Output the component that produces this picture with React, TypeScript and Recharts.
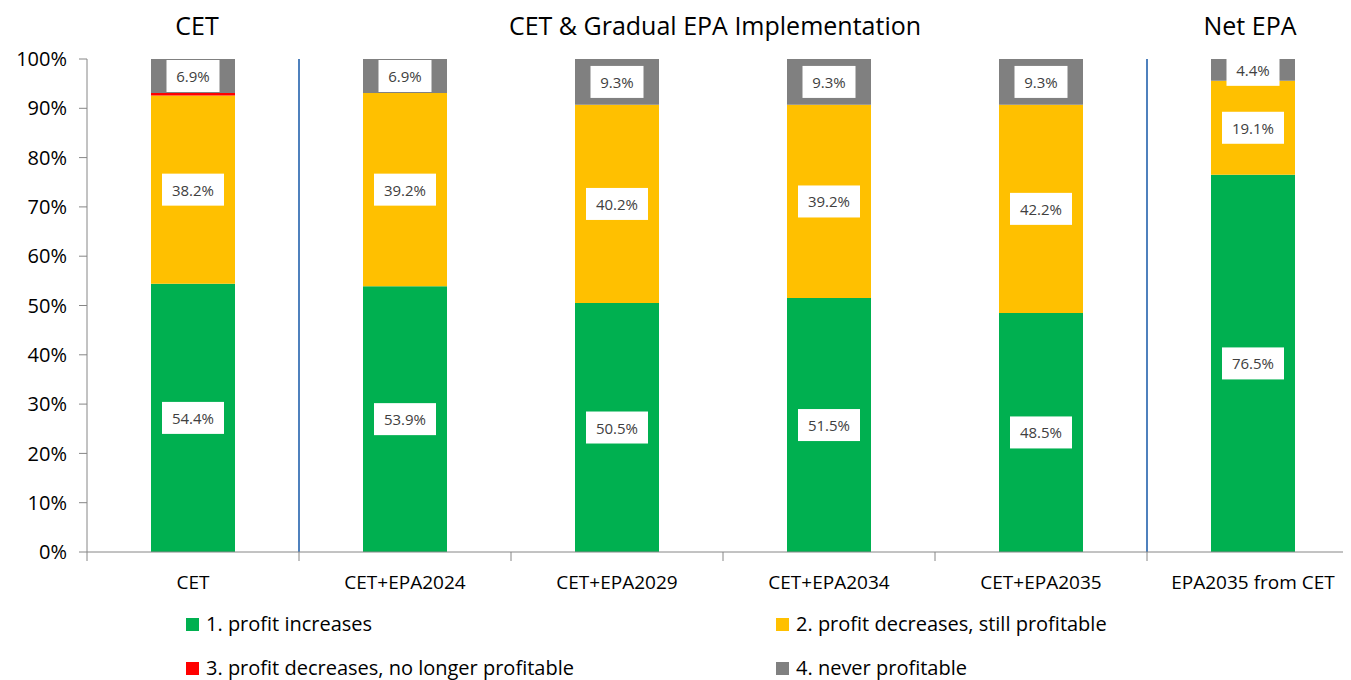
import { Bar, BarChart, LabelList, ReferenceLine, XAxis, YAxis } from "recharts";

const categories = ["CET", "CET+EPA2024", "CET+EPA2029", "CET+EPA2034", "CET+EPA2035", "EPA2035 from CET"];
const profitIncreases = [54.4, 53.9, 50.5, 51.5, 48.5, 76.5];
const stillProfitable = [38.2, 39.2, 40.2, 39.2, 42.2, 19.1];
const noLongerProfitable = [0.5, 0, 0, 0, 0, 0];
const neverProfitable = [6.9, 6.9, 9.3, 9.3, 9.3, 4.4];
const yTicks = [0, 10, 20, 30, 40, 50, 60, 70, 80, 90, 100];
// blue separators sit on the right edge of these categories
const separatorsAfter = ["CET", "CET+EPA2035"];
const groupTitles = [
  { text: "CET", center: 189 },
  { text: "CET & Gradual EPA Implementation", center: 707 },
  { text: "Net EPA", center: 1242 },
];

const series = [
  { key: "inc", name: "1. profit increases", color: "#00B050", labels: true },
  { key: "still", name: "2. profit decreases, still profitable", color: "#FFC000", labels: true },
  { key: "lost", name: "3. profit decreases, no longer profitable", color: "#FF0000", labels: false },
  { key: "never", name: "4. never profitable", color: "#808080", labels: true },
];

const data = categories.map((c, i) => ({
  cat: c,
  inc: profitIncreases[i],
  still: stillProfitable[i],
  lost: noLongerProfitable[i],
  never: neverProfitable[i],
}));

const FONT = "'Open Sans', sans-serif";
const AXIS = "#868686";
const W = 1360;
const YAXIS_W = 79;
const MARGIN = { top: 51, right: 9, left: 0, bottom: 88 };
const BAND = (W - MARGIN.right - MARGIN.left - YAXIS_W) / categories.length;
const TICK_MARGIN = 24;

function ValueBox(props: any) {
  const { x, y, width, height, value } = props;
  if (!value) return null;
  const text = `${Number(value).toFixed(1)}%`;
  const w = value >= 10 ? 62 : 53;
  const cx = x + width / 2;
  const cy = y + height / 2;
  let top = cy - 16;
  const bottom = cy + 16;
  if (top < MARGIN.top) top = MARGIN.top;
  return (
    <g>
      <rect x={cx - w / 2} y={top} width={w} height={bottom - top} fill="#fff" />
      <text x={cx} y={cy} textAnchor="middle" dominantBaseline="central" fontSize={15} fill="#404040" fontFamily={FONT}>
        {text}
      </text>
    </g>
  );
}

// category label plus Excel-style tick mark on the category boundaries
function CatTick(props: any) {
  const { x, y, payload, index } = props;
  const axisY = y - TICK_MARGIN;
  const last = index === categories.length - 1;
  return (
    <g>
      <line x1={x - BAND / 2} x2={x - BAND / 2} y1={axisY} y2={axisY + 9} stroke={AXIS} />
      {last && <line x1={x + BAND / 2} x2={x + BAND / 2} y1={axisY} y2={axisY + 9} stroke={AXIS} />}
      <text x={x} y={y} dy="0.71em" textAnchor="middle" fontSize={19} fill="#000" fontFamily={FONT}>
        {payload.value}
      </text>
    </g>
  );
}

export default function App() {
  return (
    <div style={{ position: "relative", width: 1343, height: 672, fontFamily: FONT }}>
      <div style={{ position: "absolute", left: 0, top: 0, width: 1343, height: 672, overflow: "hidden" }}>
        <BarChart width={W} height={672} data={data} margin={MARGIN} barSize={84}>
          <XAxis
            dataKey="cat"
            stroke={AXIS}
            tickLine={false}
            tickSize={0}
            tickMargin={TICK_MARGIN}
            height={40}
            interval={0}
            tick={<CatTick />}
          />
          <YAxis
            width={YAXIS_W}
            domain={[0, 100]}
            ticks={yTicks}
            tickFormatter={(v: number) => `${v}%`}
            stroke={AXIS}
            tickSize={8}
            tickMargin={12}
            tick={{ fill: "#000", fontSize: 20, fontFamily: FONT }}
          />
          {separatorsAfter.map((c) => (
            <ReferenceLine key={c} x={c} position="end" stroke="#4F81BD" strokeWidth={2} />
          ))}
          {series.map((s) => (
            <Bar key={s.key} dataKey={s.key} name={s.name} stackId="a" fill={s.color} isAnimationActive={false}>
              {s.labels && <LabelList dataKey={s.key} content={ValueBox} />}
            </Bar>
          ))}
        </BarChart>
      </div>
      {groupTitles.map((t) => (
        <div
          key={t.text}
          style={{
            position: "absolute",
            top: 2,
            left: t.center,
            transform: "translateX(-50%)",
            whiteSpace: "nowrap",
            fontSize: 25,
            lineHeight: "30px",
            color: "#000",
          }}
        >
          {t.text}
        </div>
      ))}
      <div
        style={{
          position: "absolute",
          left: 178,
          top: 602,
          display: "grid",
          gridTemplateColumns: "590px 500px",
          rowGap: 16,
          fontSize: 20,
          lineHeight: "28px",
          color: "#000",
        }}
      >
        {series.map((s) => (
          <div key={s.key} style={{ display: "flex", alignItems: "center" }}>
            <span style={{ display: "inline-block", width: 13, height: 13, background: s.color, marginRight: 7 }} />
            {s.name}
          </div>
        ))}
      </div>
    </div>
  );
}
